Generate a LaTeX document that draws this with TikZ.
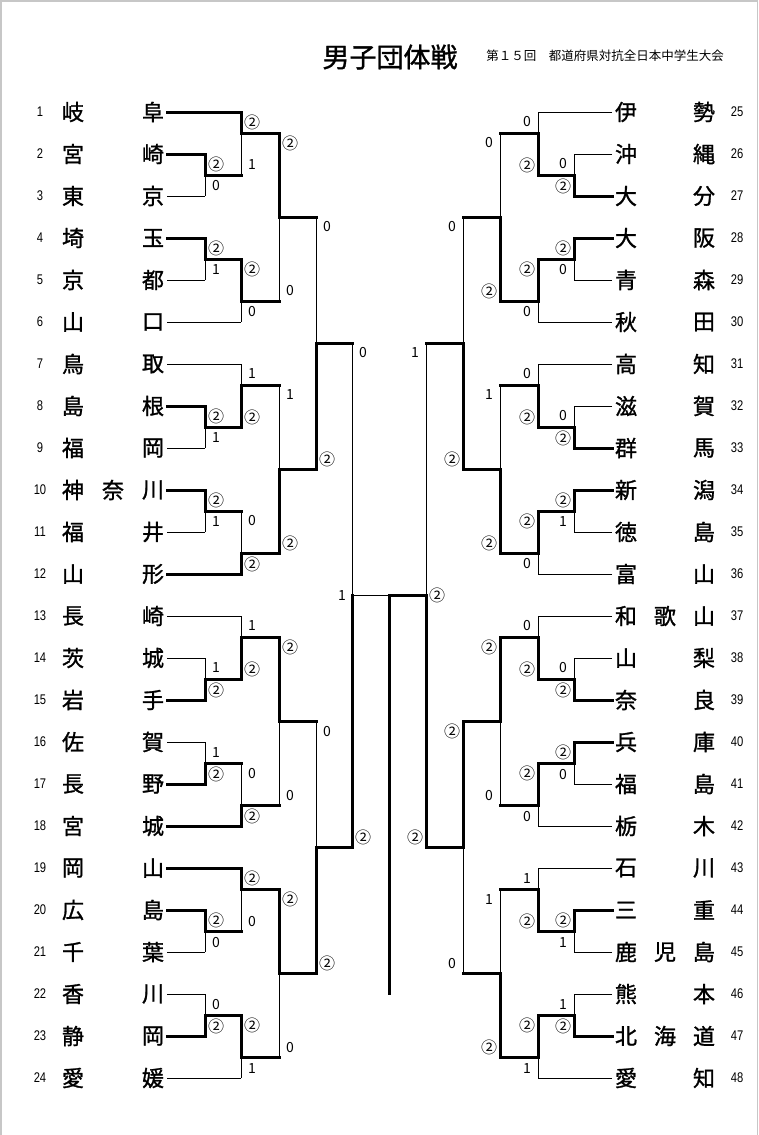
\documentclass[tikz,border=0pt]{standalone}
\usepackage{fontspec}
\newfontfamily\jp{Noto Sans CJK JP}
\newfontfamily\jpname{Noto Sans CJK JP}[FakeBold=1.2]
\newfontfamily\numf{Liberation Sans}
\newcommand\circtwo{{\fontsize{16}{16}\selectfont ②}}
\tikzset{
  thinln/.style={line width=1pt},
  thickln/.style={line width=3pt, line cap=rect},
  score/.style={font=\jp\fontsize{14}{14}\selectfont, inner sep=0pt, anchor=center},
  teamch/.style={font=\jpname\fontsize{22}{22}\selectfont, inner sep=0pt},
  rownum/.style={font=\numf\fontsize{14}{14}\selectfont, inner sep=0pt},
  framecol/.style={draw=black!22, line width=1.5pt},
}
\begin{document}
\begin{tikzpicture}[x=1pt,y=-1pt]
\useasboundingbox (0,0) rectangle (758,1135);
\fill[white] (0,0) rectangle (758,1135);
\draw[framecol] (0.75,1135) -- (0.75,0.75) -- (757.25,0.75) -- (757.25,1135);

% title
\node[font=\jpname\fontsize{27}{27}\selectfont, inner sep=0pt] (title) at (390,57) {男子団体戦};
\node[font=\jp\fontsize{12.5}{12.5}\selectfont, inner sep=0pt] (subtitle) at (605,56) {第１５回　都道府県対抗全日本中学生大会};

% left teams
\foreach \r/\na/\nb/\nc in {1/岐//阜,2/宮//崎,3/東//京,4/埼//玉,5/京//都,6/山//口,7/鳥//取,8/島//根,9/福//岡,10/神/奈/川,11/福//井,12/山//形,13/長//崎,14/茨//城,15/岩//手,16/佐//賀,17/長//野,18/宮//城,19/岡//山,20/広//島,21/千//葉,22/香//川,23/静//岡,24/愛//媛}{
  \pgfmathsetmacro\yy{112+(\r-1)*42}
  \node[rownum] (n\r) at (40,\yy) {\scalebox{0.8}[1]{\r}};
  \node[teamch] (t\r-1) at (73,\yy) {\na};
  \ifx\nb\empty\else\node[teamch] (t\r-2) at (113,\yy) {\nb};\fi
  \node[teamch] (t\r-3) at (153,\yy) {\nc};
}
% right teams
\foreach \r/\na/\nb/\nc in {25/伊//勢,26/沖//縄,27/大//分,28/大//阪,29/青//森,30/秋//田,31/高//知,32/滋//賀,33/群//馬,34/新//潟,35/徳//島,36/富//山,37/和/歌/山,38/山//梨,39/奈//良,40/兵//庫,41/福//島,42/栃//木,43/石//川,44/三//重,45/鹿/児/島,46/熊//本,47/北/海/道,48/愛//知}{
  \pgfmathsetmacro\yy{112+(\r-25)*42}
  \node[rownum] (n\r) at (737,\yy) {\scalebox{0.8}[1]{\r}};
  \node[teamch] (t\r-1) at (626,\yy) {\na};
  \ifx\nb\empty\else\node[teamch] (t\r-2) at (665,\yy) {\nb};\fi
  \node[teamch] (t\r-3) at (704,\yy) {\nc};
}

% leaf lines
\foreach \yy/\xe in {196/205,280/205,322/241,364/241,448/205,532/205,616/241,658/205,742/205,952/205,994/205,1078/241}
  \draw[thinln] (167,\yy) -- (\xe,\yy);
\foreach \yy/\xe in {112/538,154/574,280/574,322/538,364/538,406/574,532/574,574/538,616/538,658/574,784/574,826/538,868/538,952/574,994/574,1078/538}
  \draw[thinln] (612,\yy) -- (\xe,\yy);
\foreach \yy/\xe in {112/241,154/205,238/205,406/205,490/205,574/241,700/205,784/205,826/241,868/241,910/205,1036/205}
  \draw[thickln] (167,\yy) -- (\xe,\yy);
\foreach \yy/\xe in {196/574,238/574,448/574,490/574,700/574,742/574,910/574,1036/574}
  \draw[thickln] (612,\yy) -- (\xe,\yy);

% match out lines
\foreach \yy in {112,364,616,868}{
  \draw[thickln] (205,\yy+63) -- (241,\yy+63);
  \draw[thickln] (241,\yy+21) -- (279,\yy+21);
  \draw[thickln] (205,\yy+147) -- (241,\yy+147);
  \draw[thickln] (241,\yy+189) -- (279,\yy+189);
  \draw[thickln] (279,\yy+105) -- (316,\yy+105);
  \draw[thickln] (574,\yy+63) -- (538,\yy+63);
  \draw[thickln] (538,\yy+21) -- (500,\yy+21);
  \draw[thickln] (574,\yy+147) -- (538,\yy+147);
  \draw[thickln] (538,\yy+189) -- (500,\yy+189);
  \draw[thickln] (500,\yy+105) -- (463,\yy+105);
}
\draw[thickln] (316,343) -- (352,343);
\draw[thickln] (316,847) -- (352,847);
\draw[thickln] (463,343) -- (426,343);
\draw[thickln] (463,847) -- (426,847);

% matches: dir/x/top/bottom/out/topwins/score top/score bottom
\foreach \dd/\xx/\ya/\yb/\yo/\ww/\sa/\sb in {
  1/205/154/196/175/1/2/0, 1/241/112/175/133/1/2/1, 1/205/238/280/259/1/2/1, 1/241/259/322/301/1/2/0, 1/279/133/301/217/1/2/0,
  1/205/406/448/427/1/2/1, 1/241/364/427/385/0/1/2, 1/205/490/532/511/1/2/1, 1/241/511/574/553/0/0/2, 1/279/385/553/469/0/1/2,
  1/205/658/700/679/0/1/2, 1/241/616/679/637/0/1/2, 1/205/742/784/763/0/1/2, 1/241/763/826/805/0/0/2, 1/279/637/805/721/1/2/0,
  1/205/910/952/931/1/2/0, 1/241/868/931/889/1/2/0, 1/205/994/1036/1015/0/0/2, 1/241/1015/1078/1057/1/2/1, 1/279/889/1057/973/1/2/0,
  1/316/217/469/343/0/0/2, 1/316/721/973/847/0/0/2, 1/352/343/847/595/0/0/2,
  -1/574/154/196/175/0/0/2, -1/538/112/175/133/0/0/2, -1/574/238/280/259/1/2/0, -1/538/259/322/301/1/2/0, -1/500/133/301/217/0/0/2,
  -1/574/406/448/427/0/0/2, -1/538/364/427/385/0/0/2, -1/574/490/532/511/1/2/1, -1/538/511/574/553/1/2/0, -1/500/385/553/469/0/1/2,
  -1/574/658/700/679/0/0/2, -1/538/616/679/637/0/0/2, -1/574/742/784/763/1/2/0, -1/538/763/826/805/1/2/0, -1/500/637/805/721/1/2/0,
  -1/574/910/952/931/1/2/1, -1/538/868/931/889/0/1/2, -1/574/994/1036/1015/0/1/2, -1/538/1015/1078/1057/1/2/1, -1/500/889/1057/973/0/1/2,
  -1/463/217/469/343/0/0/2, -1/463/721/973/847/1/2/0, -1/426/343/847/595/0/1/2}{
  \ifnum\ww=1
    \draw[thinln] (\xx,\yo) -- (\xx,\yb);
    \draw[thickln] (\xx,\ya) -- (\xx,\yo);
  \else
    \draw[thinln] (\xx,\ya) -- (\xx,\yo);
    \draw[thickln] (\xx,\yo) -- (\xx,\yb);
  \fi
  \node[score] (sa\xx-\ya) at ({\xx+11*\dd},{\ya+10}) {\ifnum\sa=2 \circtwo\else\sa\fi};
  \node[score] (sb\xx-\yb) at ({\xx+11*\dd},{\yb-10}) {\ifnum\sb=2 \circtwo\else\sb\fi};
}

% final
\coordinate (fc) at (389,595);
\coordinate (fbot) at (389,993);
\draw[thinln] (352,595) -- (fc);
\draw[thickln] (426,595) -- (fc) -- (fbot);
\node[score] (fL) at (342,596) {1};
\node[score] (fR) at (437,595) {\circtwo};
\end{tikzpicture}
\end{document}
